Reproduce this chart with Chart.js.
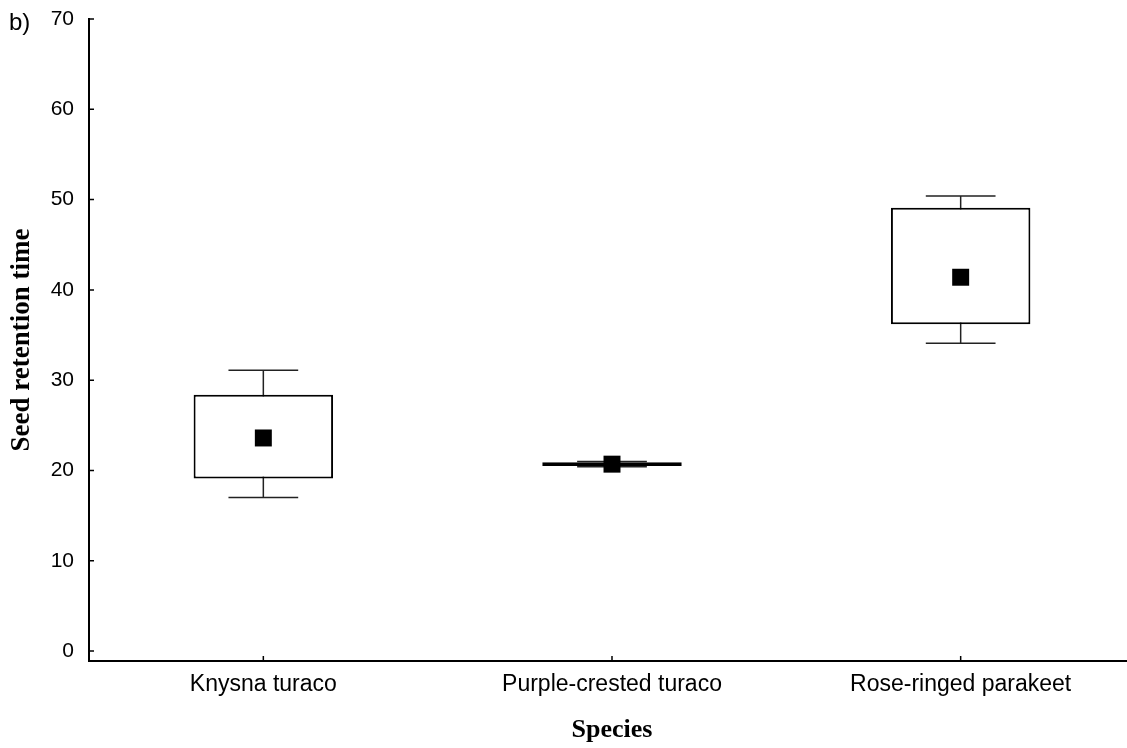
<!DOCTYPE html>
<html>
<head>
<meta charset="utf-8">
<script src="https://cdn.jsdelivr.net/npm/chart.js@4/dist/chart.umd.min.js"></script>
<style>
  html, body { margin: 0; padding: 0; background: #fff; overflow: hidden; }
  #chart { position: absolute; left: 0; top: 0; }
  #panel { position: absolute; left: 9px; top: 8px; font: 24px "Liberation Sans", Arial, sans-serif; color: #000; }
</style>
</head>
<body>
<canvas id="chart" width="1147" height="748"></canvas>
<div id="panel">b)</div>
<script>
'use strict';

// values
var species = ['Knysna turaco', 'Purple-crested turaco', 'Rose-ringed parakeet'];
var meanValues = [23.6, 20.7, 41.4];
var boxLow = [19.1, 20.5, 36.2];
var boxHigh = [28.4, 20.9, 49.1];
var whiskerLow = [17.0, 20.4, 34.1];
var whiskerHigh = [31.1, 21.0, 50.4];
var yTicks = [0, 10, 20, 30, 40, 50, 60, 70];

var boxes = species.map(function(s, i) {
  return [boxLow[i], boxHigh[i]];
});

// whiskers go under the boxes
var whiskerPlugin = {
  id: 'whiskers',
  beforeDatasetsDraw: function(chart) {
    var ctx = chart.ctx;
    var xs = chart.scales.x;
    var ys = chart.scales.y;
    var bars = chart.getDatasetMeta(0).data;
    ctx.save();
    ctx.strokeStyle = '#222';
    ctx.lineWidth = 1.5;
    species.forEach(function(s, i) {
      var x = xs.getPixelForValue(i);
      var half = bars[i].width / 4;
      var yLo = ys.getPixelForValue(whiskerLow[i]);
      var yHi = ys.getPixelForValue(whiskerHigh[i]);
      ctx.beginPath();
      ctx.moveTo(x, yLo);
      ctx.lineTo(x, yHi);
      ctx.moveTo(x - half, yLo);
      ctx.lineTo(x + half, yLo);
      ctx.moveTo(x - half, yHi);
      ctx.lineTo(x + half, yHi);
      ctx.stroke();
    });
    ctx.restore();
  },
  afterDraw: function(chart) {
    // small inward tick marks
    var ctx = chart.ctx;
    var xs = chart.scales.x;
    var ys = chart.scales.y;
    var area = chart.chartArea;
    ctx.save();
    ctx.strokeStyle = '#000';
    ctx.lineWidth = 1.5;
    ctx.beginPath();
    yTicks.forEach(function(v) {
      var y = ys.getPixelForValue(v);
      ctx.moveTo(area.left, y);
      ctx.lineTo(area.left + 5, y);
    });
    species.forEach(function(s, i) {
      var x = xs.getPixelForValue(i);
      ctx.moveTo(x, area.bottom);
      ctx.lineTo(x, area.bottom - 5);
    });
    ctx.stroke();
    ctx.restore();
  }
};

var chart = new Chart(document.getElementById('chart'), {
  type: 'bar',
  data: {
    labels: species,
    datasets: [
      {
        data: boxes,
        backgroundColor: '#fff',
        borderColor: '#000',
        borderWidth: 2,
        borderSkipped: false,
        barPercentage: 0.4,
        categoryPercentage: 1,
        order: 2
      },
      {
        type: 'line',
        data: meanValues,
        showLine: false,
        pointStyle: 'rect',
        pointRadius: 12,
        pointBackgroundColor: '#000',
        pointBorderWidth: 0,
        order: 1
      }
    ]
  },
  options: {
    responsive: false,
    animation: false,
    layout: { padding: { top: 19, right: 0, left: 0, bottom: 0 } },
    plugins: { legend: { display: false }, tooltip: { enabled: false } },
    scales: {
      x: {
        grid: { display: false, drawTicks: false },
        border: { display: true, color: '#000', width: 2 },
        ticks: {
          color: '#000',
          padding: 10,
          maxRotation: 0,
          font: { family: '"Liberation Sans", Arial, sans-serif', size: 23 }
        },
        title: {
          display: true,
          text: 'Species',
          color: '#000',
          padding: { top: 0, bottom: 2 },
          font: { family: '"Liberation Serif", "Times New Roman", serif', size: 26, weight: 'bold' }
        },
        afterFit: function(scale) {
          scale.height = 87;
          scale.paddingLeft = 0;
          scale.paddingRight = 0;
        }
      },
      y: {
        min: -1.1,
        max: 70,
        grid: { display: false, drawTicks: false },
        border: { display: true, color: '#000', width: 2 },
        afterBuildTicks: function(scale) {
          scale.ticks = yTicks.map(function(v) { return { value: v }; });
        },
        ticks: {
          color: '#000',
          padding: 15,
          font: { family: '"Liberation Sans", Arial, sans-serif', size: 21 }
        },
        title: {
          display: true,
          text: 'Seed retention time',
          color: '#000',
          padding: { top: 6, bottom: 0 },
          font: { family: '"Liberation Serif", "Times New Roman", serif', size: 27, weight: 'bold' }
        },
        afterFit: function(scale) {
          scale.width = 89;
          scale.paddingTop = 0;
          scale.paddingBottom = 0;
        }
      }
    }
  },
  plugins: [whiskerPlugin]
});
</script>
</body>
</html>
